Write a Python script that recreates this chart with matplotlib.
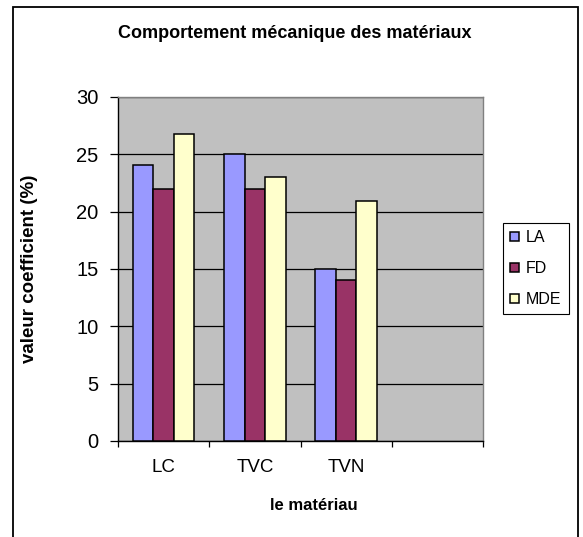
import matplotlib
matplotlib.use('Agg')
from matplotlib import pyplot as plt
from matplotlib.patches import Rectangle
import numpy as np

plt.rcParams['font.family'] = ['Liberation Sans', 'DejaVu Sans']

categories = ['LC', 'TVC', 'TVN']
n_slots = 4  # the Excel axis keeps a fourth, empty category
series = ['LA', 'FD', 'MDE']
la = [24.1, 25.0, 15.0]
fd = [22.0, 22.0, 14.0]
mde = [26.8, 23.0, 20.9]
colors = ['#9999FF', '#993366', '#FFFFCC']

W, H = 583, 537
fig = plt.figure(figsize=(W / 100, H / 100), dpi=100)


def fx(px):
    return px / W


def fy(py):
    return 1 - py / H


# outer chart frame (bottom edge is cut off in the reference)
fig.patches.append(Rectangle((fx(13), fy(545)), fx(578) - fx(13), fy(7) - fy(545),
                             transform=fig.transFigure, fill=False,
                             edgecolor='black', linewidth=1.3))

ax = fig.add_axes([fx(118), fy(441), fx(483) - fx(118), fy(97) - fy(441)])
ax.set_facecolor('#C0C0C0')

x = np.arange(len(categories))
w = 0.225
for i, (vals, name) in enumerate(zip([la, fd, mde], series)):
    ax.bar(x + (i - 1) * w, vals, w, color=colors[i], edgecolor='black',
           linewidth=1.1, label=name, zorder=3)

ax.set_xlim(-0.5, n_slots - 0.5)
ax.set_ylim(0, 30)
ax.set_yticks(range(0, 31, 5))
ax.yaxis.grid(True, color='black', linewidth=0.9, zorder=1)
ax.set_axisbelow(True)

ax.set_xticks(np.arange(-0.5, n_slots, 1.0))
ax.set_xticklabels([])
ax.set_xticks(x, minor=True)
ax.set_xticklabels(categories, minor=True)
ax.tick_params(axis='x', which='major', direction='out', length=4, width=0.9, color='black')
ax.tick_params(axis='x', which='minor', length=0, labelsize=13.5, pad=13)
ax.tick_params(axis='y', direction='out', length=6, width=0.9, color='black',
               labelsize=14.5, pad=8)

for side in ['top', 'right']:
    ax.spines[side].set_color('#808080')
    ax.spines[side].set_linewidth(1.0)
for side in ['left', 'bottom']:
    ax.spines[side].set_color('black')
    ax.spines[side].set_linewidth(1.0)

fig.text(fx(295), fy(33), 'Comportement mécanique des matériaux', ha='center', va='center',
         fontsize=13, fontweight='bold')
fig.text(fx(314), fy(505), 'le matériau', ha='center', va='center',
         fontsize=12, fontweight='bold')
fig.text(fx(30), fy(269), 'valeur coefficient (%)', ha='center', va='center',
         rotation=90, fontsize=13.5, fontweight='bold')

leg = ax.legend(loc='center left', bbox_to_anchor=(fx(503), fy(268.5)),
                bbox_transform=fig.transFigure, fontsize=11.5, frameon=True,
                fancybox=False, framealpha=1, edgecolor='black', borderaxespad=0,
                handlelength=0.55, handleheight=0.55, handletextpad=0.45,
                labelspacing=1.0, borderpad=0.45)
leg.get_frame().set_linewidth(0.8)

fig.savefig('out.png', dpi=100)
